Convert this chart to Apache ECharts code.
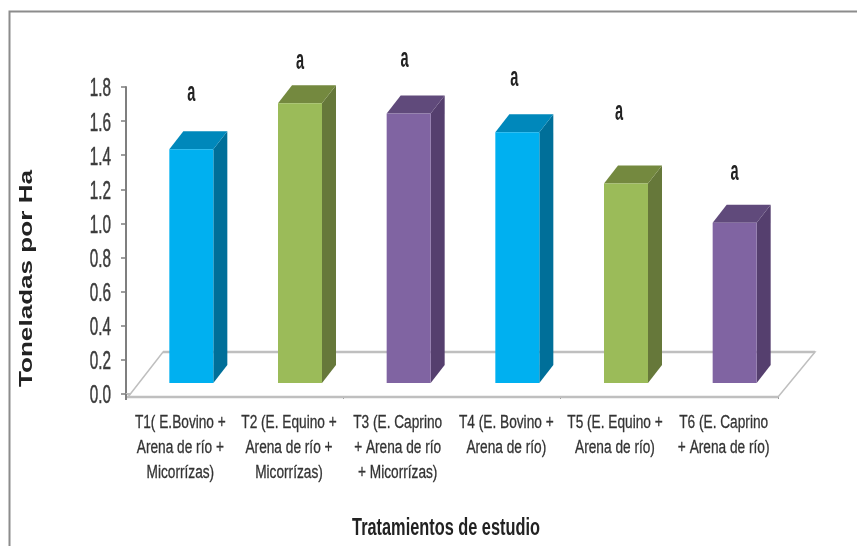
<!DOCTYPE html>
<html><head><meta charset="utf-8">
<style>html,body{margin:0;padding:0;background:#fff}#c{width:857px;height:546px}#c canvas{filter:blur(.6px)}</style>
<script src="https://cdn.jsdelivr.net/npm/echarts@6/dist/echarts.min.js"></script>
</head><body><div id="c"></div>
<script>
var categories = [
  'T1( E.Bovino +\nArena de río +\nMicorrízas)',
  'T2 (E. Equino +\nArena de río +\nMicorrízas)',
  'T3 (E. Caprino\n+ Arena de río\n+ Micorrízas)',
  'T4 (E. Bovino +\nArena de río)',
  'T5 (E. Equino +\nArena de río)',
  'T6 (E. Caprino\n+ Arena de río)'
];
var values = [1.37, 1.64, 1.58, 1.47, 1.17, 0.94];
var tickValues = [0, 0.2, 0.4, 0.6, 0.8, 1.0, 1.2, 1.4, 1.6, 1.8];
var tickLabels = ['0.0', '0.2', '0.4', '0.6', '0.8', '1.0', '1.2', '1.4', '1.6', '1.8'];
var letters = ['a', 'a', 'a', 'a', 'a', 'a'];
var letterLevels = [1.75, 1.94, 1.95, 1.84, 1.64, 1.29];
var xTitle = 'Tratamientos de estudio';
var yTitle = 'Toneladas por Ha';
var frontColors = ['#00B0F0', '#9BBB59', '#8064A2', '#00B0F0', '#9BBB59', '#8064A2'];
var sideColors = ['#006F99', '#66783A', '#553F6E', '#006F99', '#66783A', '#553F6E'];
var topColors = ['#0088BB', '#74893F', '#604A7B', '#0088BB', '#74893F', '#604A7B'];

var DX = 37, DY = 45, BAR_W = 44, D_W = 14, D_H = 18, LIFT = 11, SHIFT = 11;
var LETTER_SHIFT = [11, 11, 7, 8, 4, 11];
var FONT = '"Liberation Sans", Arial, sans-serif';

function renderFloor(params, api) {
  var cs = params.coordSys;
  var l = cs.x + 2, r = cs.x + cs.width, f = cs.y + cs.height + 3;
  return {
    type: 'group', silent: true,
    children: [
      { type: 'polygon', shape: { points: [[l, f], [l + DX - 2, f - DY], [r + DX, f - DY], [r, f]] },
        style: { fill: '#fff', stroke: '#BFBFBF', lineWidth: 1.5 } },
      { type: 'line', shape: { x1: l + DX - 2, y1: f - DY, x2: r + DX, y2: f - DY },
        style: { stroke: '#BFBFBF', lineWidth: 2.5 } },
      { type: 'line', shape: { x1: l - 2, y1: f, x2: r, y2: f },
        style: { stroke: '#BFBFBF', lineWidth: 2.5 } },
      { type: 'line', shape: { x1: cs.x, y1: cs.y + cs.height, x2: cs.x, y2: f + 3 },
        style: { stroke: '#7f7f7f', lineWidth: 2 } }
    ]
  };
}
function renderBar(params, api) {
  var i = api.value(0), v = api.value(1);
  var top = api.coord([i, v]), base = api.coord([i, 0]);
  var x0 = top[0] + SHIFT - BAR_W / 2, x1 = x0 + BAR_W;
  var yt = top[1] - LIFT, yb = base[1] - LIFT;
  return {
    type: 'group',
    children: [
      { type: 'polygon', shape: { points: [[x1, yt], [x1 + D_W, yt - D_H], [x1 + D_W, yb - D_H], [x1, yb]] },
        style: { fill: sideColors[i] } },
      { type: 'polygon', shape: { points: [[x0, yt], [x0 + D_W, yt - D_H], [x1 + D_W, yt - D_H], [x1, yt]] },
        style: { fill: topColors[i] } },
      { type: 'rect', shape: { x: x0, y: yt, width: BAR_W, height: yb - yt },
        style: { fill: frontColors[i] } }
    ]
  };
}
function renderLetter(params, api) {
  var i = api.value(0);
  var p = api.coord([i, api.value(1)]);
  return { type: 'text', x: p[0] + LETTER_SHIFT[i], y: p[1] - 2, scaleX: 0.52, silent: true,
    style: { text: letters[i], fill: '#222', font: 'bold 28px ' + FONT, align: 'center', verticalAlign: 'middle' } };
}
function renderTick(params, api) {
  var i = params.dataIndex;
  var p = api.coord([0, api.value(1)]);
  return { type: 'text', x: params.coordSys.x - 15, y: p[1] + 2.5, scaleX: 0.61, silent: true,
    style: { text: tickLabels[i], fill: '#3c3c3c', stroke: '#3c3c3c', lineWidth: 0.5, font: '25px ' + FONT, align: 'right', verticalAlign: 'middle' } };
}
function renderCat(params, api) {
  var i = api.value(0);
  var p = api.coord([i, 0]);
  return { type: 'text', x: p[0], y: p[1] + 16.5, scaleX: 0.76, silent: true,
    style: { text: categories[i], fill: '#333', stroke: '#333', lineWidth: 0.3, font: '18px ' + FONT, lineHeight: 25, align: 'center', verticalAlign: 'top' } };
}
function renderTitles(params, api) {
  var cs = params.coordSys;
  return { type: 'group', silent: true, children: [
    { type: 'text', x: 27, y: cs.y + cs.height / 2 + 38, rotation: Math.PI / 2, scaleX: 1.45,
      style: { text: yTitle, fill: '#222', font: 'bold 18px ' + FONT, align: 'center', verticalAlign: 'middle' } },
    { type: 'text', x: cs.x + cs.width / 2 - 6, y: 529, scaleX: 0.71,
      style: { text: xTitle, fill: '#222', font: 'bold 23px ' + FONT, align: 'center', verticalAlign: 'middle' } }
  ] };
}
var chart = echarts.init(document.getElementById('c'), null, { renderer: 'canvas' });
chart.setOption({
  animation: false,
  backgroundColor: '#fff',
  grid: { left: 126, right: 79, top: 87, bottom: 152 },
  graphic: [
    { type: 'polyline', silent: true, z: 0, shape: { points: [[9.5, 546], [9.5, 11.5], [857, 11.5]] },
      style: { fill: 'none', stroke: '#8c8c8c', lineWidth: 2 } }
  ],
  xAxis: {
    type: 'category', data: categories, offset: 3,
    axisLine: { lineStyle: { color: '#BFBFBF', width: 2 } },
    axisTick: { show: true, length: 5, lineStyle: { color: '#999', width: 1 } },
    axisLabel: { show: false }
  },
  yAxis: {
    type: 'value', min: 0, max: 1.8, interval: 0.2,
    axisLine: { show: true, lineStyle: { color: '#7f7f7f', width: 2 } },
    axisTick: { show: true, length: 5, lineStyle: { color: '#7f7f7f', width: 1.5 } },
    splitLine: { show: false },
    axisLabel: { show: false }
  },
  series: [
    { type: 'custom', name: 'floor', z: 1, clip: false, renderItem: renderFloor, data: [[0, 0]], encode: { x: 0, y: 1 } },
    { type: 'custom', name: 'Toneladas por Ha', z: 2, clip: false, renderItem: renderBar,
      data: values.map(function (v, i) { return [i, v]; }), encode: { x: 0, y: 1 } },
    { type: 'custom', name: 'letters', z: 3, clip: false, renderItem: renderLetter,
      data: letterLevels.map(function (v, i) { return [i, v]; }), encode: { x: 0, y: 1 } },
    { type: 'custom', name: 'yTicks', z: 3, clip: false, renderItem: renderTick,
      data: tickValues.map(function (v) { return [0, v]; }), encode: { x: 0, y: 1 } },
    { type: 'custom', name: 'xLabels', z: 3, clip: false, renderItem: renderCat,
      data: categories.map(function (c, i) { return [i, 0]; }), encode: { x: 0, y: 1 } },
    { type: 'custom', name: 'titles', z: 3, clip: false, renderItem: renderTitles, data: [[0, 0]], encode: { x: 0, y: 1 } }
  ]
});
</script></body></html>
